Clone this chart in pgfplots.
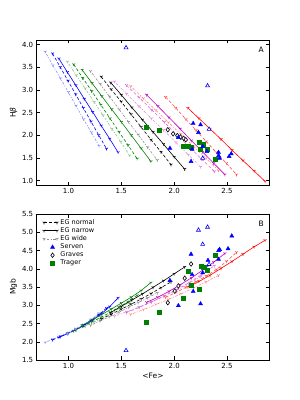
\documentclass[border=0pt]{standalone}
\usepackage{fontspec}
\setmainfont{DejaVu Sans}
\usepackage{pgfplots}
\pgfplotsset{compat=1.18}
\definecolor{mgreen}{rgb}{0,0.5,0}
\definecolor{mmag}{rgb}{0.75,0,0.75}
\pgfplotsset{
  base/.style={scale only axis, width=232.6pt, xmin=0.7, xmax=2.9,
    xtick={1.0,1.5,2.0,2.5}, tick align=inside, major tick length=3.5pt,
    tick style={black, line width=0.4pt},
    tick label style={font=\fontsize{7}{8}\selectfont},
    /pgf/number format/assume math mode=true,
    /pgf/number format/fixed, /pgf/number format/fixed zerofill,
    /pgf/number format/precision=1,
    label style={font=\fontsize{7.5}{9}\selectfont},
    axis line style={black, line width=0.5pt}},
  narrow/.style={color=#1, solid, line width=0.6pt, mark=Mercedes star flipped, mark size=1.7pt, mark options={solid}},
  normal/.style={color=#1, line width=0.6pt, dash pattern=on 3pt off 2pt, mark=Mercedes star flipped, mark size=1.7pt, mark options={solid}},
  wide/.style={color=#1!45!white, line width=0.6pt, dash pattern=on 1pt off 1.5pt on 2.5pt off 1.5pt, mark=Mercedes star flipped, mark size=1.7pt, mark options={solid}},
  twomark/.style={legend image code/.code={\draw[##1] plot coordinates {(0pt,0pt) (13pt,0pt)};}},
  serv/.style={only marks, mark=triangle*, mark size=2.3pt, color=blue, mark options={fill=blue}},
  servo/.style={only marks, mark=triangle*, mark size=2.3pt, color=blue, mark options={fill=white, line width=0.6pt}},
  grav/.style={only marks, mark=diamond*, mark size=2.3pt, color=black, mark options={fill=white, line width=0.6pt}},
  trag/.style={only marks, mark=square*, mark size=2pt, color=mgreen, mark options={fill=mgreen}},
}
\begin{document}
\begin{tikzpicture}
\useasboundingbox (0,0) rectangle (300pt,400pt);
% ---------------- Panel A ----------------
\begin{axis}[base, at={(36.7pt,215pt)}, anchor=south west, height=145pt,
  ymin=0.9, ymax=4.1, ytick={1.0,1.5,2.0,2.5,3.0,3.5,4.0}, ylabel={H{\itshape β}},
  ylabel style={yshift=-2pt}]
% blue
\addplot[wide=blue] coordinates {(0.78,3.84)(0.853,3.54)(0.926,3.25)(0.999,2.95)(1.071,2.65)(1.144,2.35)(1.217,2.06)(1.29,1.76)};
\addplot[normal=blue] coordinates {(0.85,3.80)(0.923,3.50)(0.996,3.20)(1.069,2.90)(1.141,2.60)(1.214,2.30)(1.287,2.00)(1.36,1.70)};
\addplot[narrow=blue] coordinates {(0.91,3.69)(0.99,3.39)(1.07,3.10)(1.15,2.80)(1.23,2.51)(1.31,2.21)(1.39,1.92)(1.47,1.62)};
% green
\addplot[wide=mgreen] coordinates {(0.99,3.62)(1.074,3.32)(1.159,3.03)(1.243,2.73)(1.327,2.44)(1.411,2.14)(1.496,1.85)(1.58,1.55)};
\addplot[normal=mgreen] coordinates {(1.05,3.56)(1.136,3.26)(1.221,2.97)(1.307,2.67)(1.393,2.37)(1.479,2.07)(1.564,1.78)(1.65,1.48)};
\addplot[narrow=mgreen] coordinates {(1.13,3.44)(1.223,3.15)(1.316,2.86)(1.409,2.57)(1.501,2.29)(1.594,2.00)(1.687,1.71)(1.78,1.42)};
% black
\addplot[wide=black] coordinates {(1.21,3.41)(1.30,3.13)(1.39,2.85)(1.48,2.57)(1.57,2.29)(1.66,2.01)(1.75,1.73)(1.84,1.45)};
\addplot[normal=black] coordinates {(1.31,3.29)(1.404,3.01)(1.499,2.74)(1.593,2.46)(1.687,2.18)(1.781,1.90)(1.876,1.63)(1.97,1.35)};
\addplot[narrow=black] coordinates {(1.40,3.16)(1.50,2.89)(1.60,2.61)(1.70,2.34)(1.80,2.07)(1.90,1.80)(2.00,1.52)(2.10,1.25)};
% magenta
\addplot[wide=mmag] coordinates {(1.435,3.18)(1.551,2.91)(1.668,2.64)(1.784,2.37)(1.901,2.11)(2.017,1.84)(2.134,1.57)(2.25,1.30)};
\addplot[normal=mmag!60!white] coordinates {(1.55,3.10)(1.669,2.83)(1.787,2.56)(1.906,2.29)(2.024,2.01)(2.143,1.74)(2.261,1.47)(2.38,1.20)};
\addplot[narrow=mmag] coordinates {(1.74,2.89)(1.846,2.64)(1.951,2.39)(2.057,2.14)(2.163,1.88)(2.269,1.63)(2.374,1.38)(2.48,1.13)};
% red
\addplot[wide=red] coordinates {(1.59,3.08)(1.709,2.81)(1.827,2.55)(1.946,2.28)(2.064,2.02)(2.183,1.75)(2.301,1.49)(2.42,1.22)};
\addplot[normal=red!70!white] coordinates {(1.92,2.84)(2.016,2.60)(2.111,2.35)(2.207,2.11)(2.303,1.86)(2.399,1.62)(2.494,1.38)(2.59,1.13)};
\addplot[narrow=red] coordinates {(2.13,2.60)(2.234,2.37)(2.339,2.14)(2.443,1.91)(2.547,1.67)(2.651,1.44)(2.756,1.21)(2.86,0.98)};
% data
\addplot[grav] coordinates {(1.94,2.12)(1.99,2.03)(2.03,1.99)(2.06,1.96)(2.09,1.93)(2.11,1.90)};
\addplot[trag] coordinates {(1.736,2.17)(1.86,2.10)(2.09,1.76)(2.135,1.76)(2.16,1.73)(2.24,1.84)(2.275,1.80)(2.25,1.69)(2.316,1.70)(2.386,1.46)};
\addplot[serv] coordinates {(2.18,2.26)(2.25,2.23)(2.23,2.06)(2.04,1.95)(1.96,1.71)(2.17,1.69)(2.27,1.75)(2.31,1.64)(2.42,1.62)(2.42,1.55)(2.43,1.49)(2.52,1.53)(2.54,1.59)(2.16,1.42)};
\addplot[servo] coordinates {(1.545,3.93)(2.316,3.09)(2.33,2.13)(2.27,1.49)};
\node[font=\fontsize{7.5}{9}\selectfont] at (rel axis cs:0.965,0.93) {A};
\end{axis}
% ---------------- Panel B ----------------
\begin{axis}[base, at={(36.7pt,40pt)}, anchor=south west, height=146pt,
  ymin=1.5, ymax=5.5, ytick={1.5,2.0,2.5,3.0,3.5,4.0,4.5,5.0,5.5}, ylabel={Mgb}, xlabel={<Fe>},
  ylabel style={yshift=-2pt}, xlabel style={yshift=3pt},
  legend style={at={(0.02,0.985)}, anchor=north west, draw=none, fill=none,
    font=\fontsize{6.5}{7.5}\selectfont, row sep=-2.2pt, inner sep=1pt},
  legend cell align=left]
\addlegendimage{normal=black, twomark}\addlegendentry{EG normal}
\addlegendimage{narrow=black, twomark}\addlegendentry{EG narrow}
\addlegendimage{wide=black, twomark}\addlegendentry{EG wide}
% blue
\addplot[wide=blue, forget plot] coordinates {(0.78,1.98)(0.853,2.07)(0.926,2.16)(0.999,2.25)(1.071,2.36)(1.144,2.47)(1.217,2.61)(1.29,2.78)};
\addplot[normal=blue, forget plot] coordinates {(0.85,2.05)(0.923,2.14)(0.996,2.23)(1.069,2.33)(1.141,2.45)(1.214,2.58)(1.287,2.74)(1.36,2.92)};
\addplot[narrow=blue, forget plot] coordinates {(0.91,2.12)(0.99,2.22)(1.07,2.33)(1.15,2.45)(1.23,2.59)(1.31,2.76)(1.39,2.96)(1.47,3.20)};
% green
\addplot[wide=mgreen, forget plot] coordinates {(0.99,2.22)(1.074,2.32)(1.159,2.43)(1.243,2.54)(1.327,2.66)(1.411,2.79)(1.496,2.93)(1.58,3.08)};
\addplot[normal=mgreen, forget plot] coordinates {(1.05,2.30)(1.136,2.42)(1.221,2.54)(1.307,2.67)(1.393,2.80)(1.479,2.95)(1.564,3.10)(1.65,3.27)};
\addplot[narrow=mgreen, forget plot] coordinates {(1.13,2.45)(1.223,2.60)(1.316,2.75)(1.409,2.90)(1.501,3.06)(1.594,3.22)(1.687,3.40)(1.78,3.62)};
% black
\addplot[wide=black, forget plot] coordinates {(1.21,2.45)(1.30,2.57)(1.39,2.69)(1.48,2.81)(1.57,2.94)(1.66,3.07)(1.75,3.20)(1.84,3.34)};
\addplot[normal=black, forget plot] coordinates {(1.31,2.62)(1.404,2.75)(1.499,2.89)(1.593,3.03)(1.687,3.17)(1.781,3.32)(1.876,3.48)(1.97,3.64)};
\addplot[narrow=black, forget plot] coordinates {(1.40,2.80)(1.50,2.97)(1.60,3.14)(1.70,3.31)(1.80,3.49)(1.90,3.67)(2.00,3.86)(2.10,4.05)};
% magenta
\addplot[wide=mmag, forget plot] coordinates {(1.435,2.70)(1.551,2.82)(1.668,2.95)(1.784,3.09)(1.901,3.24)(2.017,3.40)(2.134,3.58)(2.25,3.78)};
\addplot[normal=mmag!60!white, forget plot] coordinates {(1.55,2.80)(1.669,2.94)(1.787,3.09)(1.906,3.26)(2.024,3.43)(2.143,3.62)(2.261,3.84)(2.38,4.08)};
\addplot[narrow=mmag, forget plot] coordinates {(1.74,3.08)(1.846,3.22)(1.951,3.38)(2.057,3.56)(2.163,3.75)(2.269,3.96)(2.374,4.18)(2.48,4.42)};
% red
\addplot[wide=red, forget plot] coordinates {(1.59,2.75)(1.709,2.88)(1.827,3.02)(1.946,3.16)(2.064,3.31)(2.183,3.47)(2.301,3.64)(2.42,3.82)};
\addplot[normal=red!70!white, forget plot] coordinates {(1.92,3.22)(2.016,3.35)(2.111,3.49)(2.207,3.64)(2.303,3.80)(2.399,3.98)(2.494,4.20)(2.59,4.45)};
\addplot[narrow=red, forget plot] coordinates {(2.13,3.50)(2.234,3.65)(2.339,3.82)(2.443,4.01)(2.547,4.20)(2.651,4.40)(2.756,4.60)(2.86,4.78)};
% data
\addplot[serv] coordinates {(2.16,4.40)(2.545,4.90)(2.51,4.55)(2.43,4.53)(2.42,4.50)(2.42,4.26)(2.32,4.23)(2.27,3.89)(2.17,3.84)(1.96,3.68)(2.18,3.38)(2.04,2.99)(2.25,3.04)};
\addlegendentry{Serven}
\addplot[grav] coordinates {(1.94,3.07)(2.005,3.39)(2.04,3.53)(2.10,3.74)(2.16,4.13)};
\addlegendentry{Graves}
\addplot[trag] coordinates {(1.736,2.54)(1.86,2.82)(2.09,3.19)(2.13,3.94)(2.16,3.54)(2.24,3.45)(2.26,4.07)(2.28,4.03)(2.316,3.96)(2.386,4.37)};
\addlegendentry{Trager}
\addplot[servo, forget plot] coordinates {(1.545,1.76)(2.316,5.14)(2.23,5.06)(2.27,4.67)(2.33,4.12)};
\node[font=\fontsize{7.5}{9}\selectfont] at (rel axis cs:0.965,0.93) {B};
\end{axis}
\end{tikzpicture}
\end{document}
